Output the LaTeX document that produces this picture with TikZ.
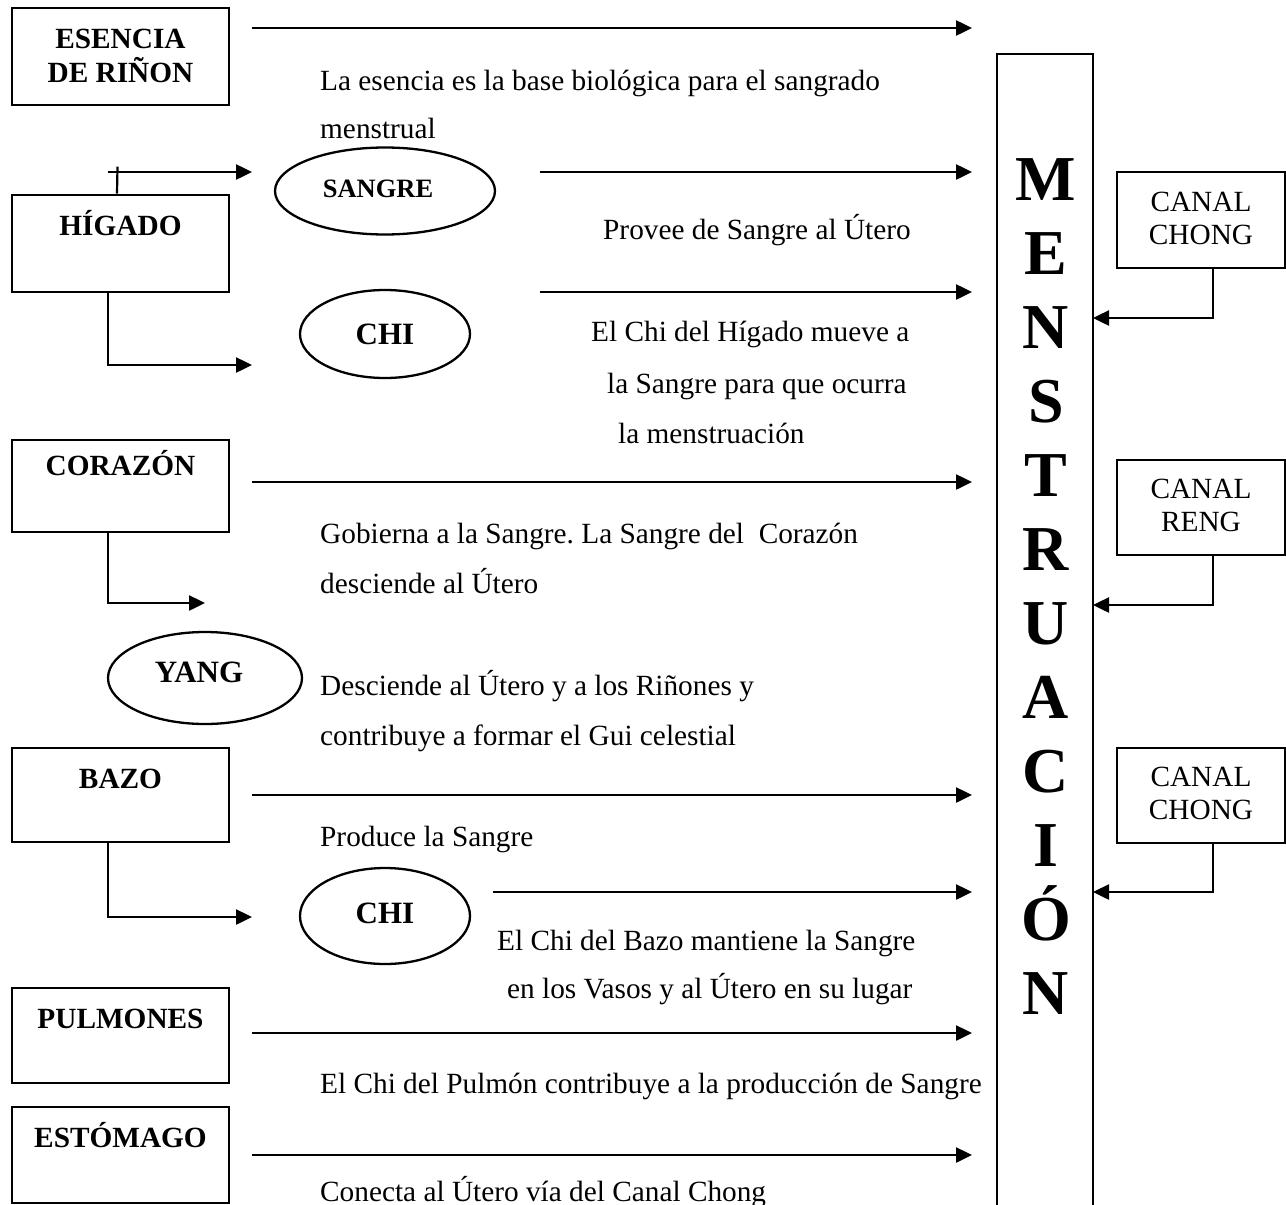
\documentclass[tikz,border=0pt]{standalone}
\usepackage{fontspec}
\setmainfont{Liberation Serif}
\usetikzlibrary{arrows.meta,shapes.geometric}

% box from its corners: name, x1, y1, x2, y2
\newcommand\organbox[5]{%
  \node[organ,minimum width={#4-#2},minimum height={#5-#3}] (#1)
    at ({(#2+#4)/2},{(#3+#5)/2}) {};}

\begin{document}
\frenchspacing
\begin{tikzpicture}[x=1pt,y=-1pt,
  organ/.style={draw,line width=2.7pt,inner sep=0pt},
  oval/.style={ellipse,draw,line width=2.3pt,inner sep=0pt},
  arr/.style={line width=2.5pt,-{Triangle[length=16pt,width=15pt]}},
  link/.style={line width=2.5pt},
  body/.style={anchor=base west,inner sep=0pt,font=\fontsize{29.3}{34}\selectfont},
  head/.style={anchor=base,inner sep=0pt,font=\fontsize{29.3}{34}\selectfont\bfseries},
  ovaltxt/.style={anchor=base,inner sep=0pt,font=\fontsize{31}{34}\selectfont\bfseries},
  canaltxt/.style={align=center,inner sep=0pt,font=\fontsize{29.3}{33}\selectfont},
  bigletter/.style={anchor=base,inner sep=0pt,font=\fontsize{64}{70}\selectfont\bfseries}]

\clip (0,0) rectangle (1286,1205);
\fill[white] (0,0) rectangle (1286,1205);

% organ boxes on the left
\organbox{esencia}{12}{8}{229}{105}
\organbox{higado}{12}{195}{229}{292}
\organbox{corazon}{12}{440}{229}{532}
\organbox{bazo}{12}{748}{229}{842}
\organbox{pulmones}{12}{988}{229}{1083}
\organbox{estomago}{12}{1107}{229}{1203}

\node[head] (esencia-a) at (120.5,48) {ESENCIA};
\node[head] (esencia-b) at (120.5,82) {DE RIÑON};
\node[head] (higado-t) at (120.5,235) {HÍGADO};
\node[head] (corazon-t) at (120.5,475) {CORAZÓN};
\node[head] (bazo-t) at (120.5,788) {BAZO};
\node[head] (pulmones-t) at (120.5,1028) {PULMONES};
\node[head] (estomago-t) at (120.5,1147) {ESTÓMAGO};

% ovals
\node[oval,minimum width=220pt,minimum height=87pt] (sangre) at (385,191) {};
\node[oval,minimum width=170pt,minimum height=88pt] (chiA) at (385,334) {};
\node[oval,minimum width=194pt,minimum height=92pt] (yang) at (205,678) {};
\node[oval,minimum width=170pt,minimum height=96pt] (chiB) at (385,916) {};

\node[anchor=base,inner sep=0pt,font=\fontsize{26.5}{30}\selectfont\bfseries] (sangre-t) at (378,197) {SANGRE};
\node[ovaltxt] (chiA-t) at (385,344) {CHI};
\node[ovaltxt] (yang-t) at (199,682) {YANG};
\node[ovaltxt] (chiB-t) at (385,923) {CHI};

% the tall MENSTRUACIÓN column
\organbox{menst}{997}{54}{1093}{1240}
\foreach \l [count=\i from 0] in {M,E,N,S,T,R,U,A,C,I,Ó,N}
  \node[bigletter] (L\i) at (1046,{200+74*\i}) {\l};

% channel boxes on the right
\organbox{chongA}{1117}{172}{1285}{268}
\organbox{reng}{1117}{460}{1285}{555}
\organbox{chongB}{1117}{748}{1285}{843}
\node[canaltxt] (chongA-t) at ([yshift=2pt]chongA) {CANAL\\CHONG};
\node[canaltxt] (reng-t) at ([yshift=2pt]reng) {CANAL\\RENG};
\node[canaltxt] (chongB-t) at ([yshift=2pt]chongB) {CANAL\\CHONG};

\coordinate (inA) at (1093,318);
\coordinate (inB) at (1093,605);
\coordinate (inC) at (1093,892);
\draw[arr] ([xshift=12pt]chongA.south) |- (inA);
\draw[arr] ([xshift=12pt]reng.south) |- (inB);
\draw[arr] ([xshift=12pt]chongB.south) |- (inC);

% branches from the organs to the ovals
\coordinate (hs0) at (108,172);
\coordinate (hs1) at (252,172);
\draw[arr] (hs0) -- (hs1);
\draw[link,line width=2.2pt] ([xshift=-3.5pt]higado.north) -- ++(0.5,-27);
\coordinate (hc1) at (252,365);
\draw[arr] ([xshift=-12.5pt]higado.south) |- (hc1);
\coordinate (cy1) at (205,603);
\draw[arr] ([xshift=-12.5pt]corazon.south) |- (cy1);
\coordinate (bc1) at (252,917);
\draw[arr] ([xshift=-12.5pt]bazo.south) |- (bc1);

% long arrows towards the column
\foreach \n/\xa/\yy in {r1/252/28, r2/540/172, r3/540/292, r4/252/482,
                        r5/252/795, r6/493/892, r7/252/1033, r8/252/1155} {
  \coordinate (\n s) at (\xa,\yy);
  \coordinate (\n e) at (972,\yy);
  \draw[arr] (\n s) -- (\n e);
}

% explanatory texts
\node[body] (t1) at (320,90) {La esencia es la base biológica para el sangrado};
\node[body] (t2) at (320,138) {menstrual};
\node[body] (t3) at (603,239) {Provee de Sangre al Útero};
\node[body] (t4) at (591,341) {El Chi del Hígado mueve a};
\node[body] (t5) at (607,393) {la Sangre para que ocurra};
\node[body] (t6) at (618,443) {la menstruación};
\node[body] (t7) at (320,543) {Gobierna a la Sangre. La Sangre del \ Corazón};
\node[body] (t8) at (320,593) {desciende al Útero};
\node[body] (t9) at (320,695) {Desciende al Útero y a los Riñones y};
\node[body] (t10) at (320,745) {contribuye a formar el Gui celestial};
\node[body] (t11) at (320,846) {Produce la Sangre};
\node[body] (t12) at (497,950) {El Chi del Bazo mantiene la Sangre};
\node[body] (t13) at (507,998) {en los Vasos y al Útero en su lugar};
\node[body] (t14) at (320,1093) {El Chi del Pulmón contribuye a la producción de Sangre};
\node[body] (t15) at (320,1201) {Conecta al Útero vía del Canal Chong};
\end{tikzpicture}
\end{document}
